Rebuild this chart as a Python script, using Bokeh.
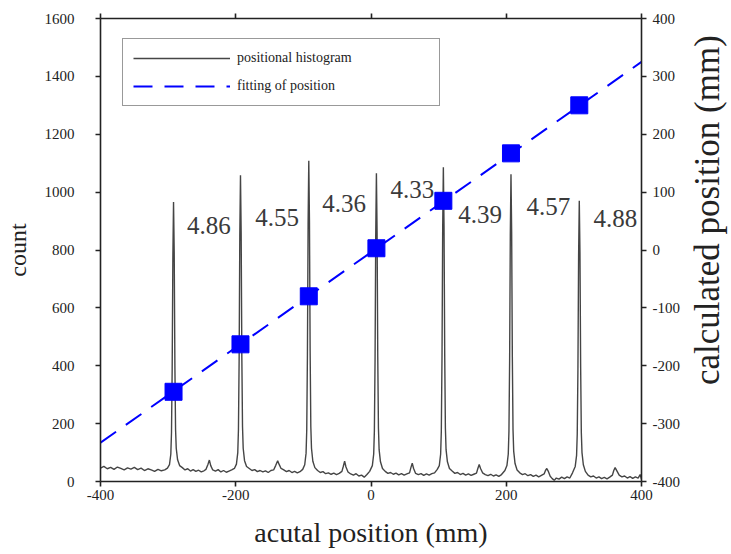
import math
from bokeh.plotting import figure
from bokeh.models import (Range1d, LinearAxis, FixedTicker, Legend, Label,
                          LegendItem, ColumnDataSource)
from bokeh.core.properties import value
from bokeh.embed import file_html
from bokeh.resources import INLINE

# ---- data ----
hist_points = [
    (-400, 46), (-395, 52), (-390, 44), (-385, 49), (-380, 42), (-375, 50), (-370, 45), (-365, 40),
    (-360, 47), (-355, 43), (-350, 49), (-345, 41), (-340, 46), (-335, 38), (-330, 44), (-325, 40),
    (-320, 35), (-315, 42), (-310, 37), (-305, 40), (-301, 46),
    (-298, 58), (-296, 95), (-295, 170), (-294, 390), (-293, 770), (-292, 966), (-291, 790),
    (-290, 400), (-289, 180), (-288, 115), (-286, 75), (-283, 55),
    (-279, 48), (-275, 40), (-271, 44), (-267, 36), (-263, 41), (-259, 35), (-255, 39), (-251, 33),
    (-247, 37), (-244, 42), (-241, 60), (-239, 74), (-237, 55), (-234, 40), (-230, 36), (-226, 41),
    (-222, 33), (-218, 38), (-214, 32), (-210, 36), (-206, 40), (-202, 45),
    (-199, 60), (-197, 100), (-196, 180), (-195, 420), (-194, 850), (-193, 1058), (-192, 860),
    (-191, 430), (-190, 190), (-189, 115), (-187, 72), (-184, 52),
    (-180, 45), (-176, 38), (-172, 41), (-168, 34), (-164, 38), (-160, 33), (-156, 37), (-152, 31),
    (-148, 38), (-144, 40), (-141, 55), (-138, 72), (-136, 60), (-133, 45), (-129, 40), (-125, 34),
    (-121, 38), (-117, 31), (-113, 35), (-109, 30), (-105, 34), (-101, 42),
    (-98, 58), (-96, 98), (-95, 180), (-94, 440), (-93, 890), (-92, 1108), (-91, 900),
    (-90, 450), (-89, 190), (-88, 115), (-86, 70), (-83, 48),
    (-79, 38), (-75, 31), (-71, 34), (-67, 27), (-63, 30), (-59, 25), (-55, 29), (-51, 24),
    (-47, 28), (-43, 35), (-41, 52), (-39, 70), (-37, 50), (-34, 33), (-30, 26), (-26, 22),
    (-22, 27), (-18, 19), (-14, 22), (-10, 15), (-6, 24), (-2, 35),
    (2, 55), (4, 95), (5, 175), (6, 420), (7, 850), (8, 1065), (9, 860),
    (10, 430), (11, 185), (12, 110), (14, 68), (17, 45),
    (21, 35), (25, 28), (29, 31), (33, 25), (37, 29), (41, 23), (45, 27), (49, 22),
    (53, 26), (57, 30), (59, 48), (61, 63), (63, 45), (66, 28), (70, 24), (74, 27),
    (78, 21), (82, 26), (86, 22), (90, 27), (94, 30), (98, 42),
    (101, 55), (103, 95), (104, 175), (105, 430), (106, 870), (107, 1086), (108, 880),
    (109, 440), (110, 185), (111, 110), (113, 68), (116, 45),
    (120, 36), (124, 28), (128, 31), (132, 24), (136, 28), (140, 22), (144, 26), (148, 21),
    (152, 25), (156, 29), (158, 45), (160, 59), (162, 45), (165, 30), (169, 24), (173, 20),
    (177, 25), (181, 19), (185, 23), (189, 18), (193, 24), (198, 38),
    (201, 55), (203, 95), (204, 175), (205, 420), (206, 850), (207, 1062), (208, 860),
    (209, 430), (210, 180), (211, 105), (213, 62), (216, 40),
    (220, 30), (224, 24), (228, 27), (232, 20), (236, 24), (240, 18), (244, 22), (248, 16),
    (252, 21), (256, 26), (258, 38), (260, 45), (262, 36), (265, 18), (268, 10), (271, 4),
    (274, 12), (278, 8), (282, 15), (286, 10), (290, 16), (294, 12), (298, 30),
    (302, 52), (304, 90), (305, 165), (306, 390), (307, 780), (308, 970), (309, 790),
    (310, 400), (311, 170), (312, 100), (314, 58), (317, 35),
    (321, 22), (325, 16), (329, 19), (333, 12), (337, 16), (341, 10), (345, 14), (349, 9),
    (353, 15), (357, 22), (359, 38), (361, 48), (364, 35), (367, 22), (371, 16), (375, 19),
    (379, 12), (383, 17), (387, 11), (391, 16), (395, 12), (398, 24), (400, 8),
]
hist_x = [pt[0] for pt in hist_points]
hist_y = [pt[1] for pt in hist_points]

actual_pos = [-292, -193, -92, 8, 107, 207, 308]          # mm
calc_pos = [-245, -163, -80, 3, 85, 167, 250]              # mm
fit_x = [-400, 400]
fit_y = [-333, 325]

fwhm_text = ["4.86", "4.55", "4.36", "4.33", "4.39", "4.57", "4.88"]
fwhm_x = [-272, -171, -72, 29, 129, 230, 329]
fwhm_y = [886, 913, 962, 1010, 924, 949, 910]

count_ticks = [0, 200, 400, 600, 800, 1000, 1200, 1400, 1600]
x_ticks = [-400, -200, 0, 200, 400]
calc_ticks = [-400, -300, -200, -100, 0, 100, 200, 300, 400]

SERIF = "Liberation Serif"

p = figure(frame_width=541, frame_height=463,
           min_border_left=100, min_border_right=90, min_border_top=18, min_border_bottom=73,
           x_range=Range1d(-400, 400), y_range=Range1d(0, 1600),
           output_backend="svg", toolbar_location=None)
p.extra_y_ranges = {"calc": Range1d(-400, 400)}
p.grid.visible = False
p.outline_line_color = None
p.background_fill_color = "white"
p.border_fill_color = "white"

bottom_axis = p.below[0]
left_axis = p.left[0]
right_axis = LinearAxis(y_range_name="calc")
p.add_layout(right_axis, "right")
top_axis = LinearAxis()
p.add_layout(top_axis, "above")

bottom_axis.ticker = FixedTicker(ticks=x_ticks)
top_axis.ticker = FixedTicker(ticks=x_ticks)
left_axis.ticker = FixedTicker(ticks=count_ticks)
right_axis.ticker = FixedTicker(ticks=calc_ticks)

bottom_axis.major_label_overrides = {t: str(t) for t in x_ticks}
left_axis.major_label_overrides = {t: str(t) for t in count_ticks}
right_axis.major_label_overrides = {t: str(t) for t in calc_ticks}
top_axis.major_label_overrides = {t: "" for t in x_ticks}

for ax in [bottom_axis, left_axis, right_axis, top_axis]:
    ax.axis_line_color = "#222222"
    ax.axis_line_width = 1.6
    ax.major_tick_line_color = "#222222"
    ax.major_tick_line_width = 1.6
    ax.major_tick_out = 5
    ax.major_tick_in = 0
    ax.minor_tick_line_color = None
    ax.major_label_text_font = SERIF
    ax.major_label_text_font_size = "15px"
    ax.major_label_text_color = "#222222"
    ax.axis_label_text_font = SERIF
    ax.axis_label_text_font_style = "normal"
    ax.axis_label_text_color = "#222222"

bottom_axis.major_label_standoff = 3
left_axis.major_label_standoff = 21
right_axis.major_label_standoff = 6
top_axis.major_label_text_font_size = "1px"
top_axis.major_label_standoff = 0

# axis titles
left_axis.axis_label = "count"
left_axis.axis_label_text_font_size = "24px"
left_axis.axis_label_standoff = 11
bottom_axis.axis_label = "acutal position (mm)"
bottom_axis.axis_label_text_font_size = "28px"
bottom_axis.axis_label_standoff = 14

# right title, reading bottom-to-top, placed in the right side panel (not clipped)
right_title = Label(x=498, y=938, text="calculated position (mm)", angle=90, angle_units="deg",
                    text_align="center", text_baseline="alphabetic",
                    text_font=SERIF, text_font_size="35px", text_color="#222222")
p.add_layout(right_title, "right")

# histogram
src_hist = ColumnDataSource(dict(x=hist_x, y=hist_y))
r_hist = p.line("x", "y", source=src_hist, line_color="#454545", line_width=1.4)

# fit line + calculated points
src_fit = ColumnDataSource(dict(x=fit_x, y=fit_y))
r_fit = p.line("x", "y", source=src_fit, y_range_name="calc",
               line_color="#0000ff", line_width=2, line_dash="19 12")
src_pts = ColumnDataSource(dict(x=actual_pos, y=calc_pos))
p.scatter("x", "y", source=src_pts, y_range_name="calc", marker="square", size=17,
          fill_color="#0000ff", line_color="#0000ff")

# FWHM annotations
src_txt = ColumnDataSource(dict(x=fwhm_x, y=fwhm_y, t=fwhm_text))
p.text("x", "y", text="t", source=src_txt, text_font=value(SERIF),
       text_font_size="25px", text_color="#3a3a3a",
       text_align="left", text_baseline="alphabetic")

# legend
legend = Legend(items=[LegendItem(label="positional histogram", renderers=[r_hist]),
                       LegendItem(label="fitting of position", renderers=[r_fit])],
                location=(22, 375), margin=0, padding=10, spacing=10,
                glyph_width=97, glyph_height=18, label_height=18, label_width=192,
                label_standoff=7, label_text_font=SERIF, label_text_font_size="14px",
                label_text_color="#222222", border_line_color="#333333",
                border_line_width=1.6, background_fill_color="white",
                background_fill_alpha=1.0)
p.add_layout(legend)

open("out.html", "w").write(file_html(p, INLINE))
